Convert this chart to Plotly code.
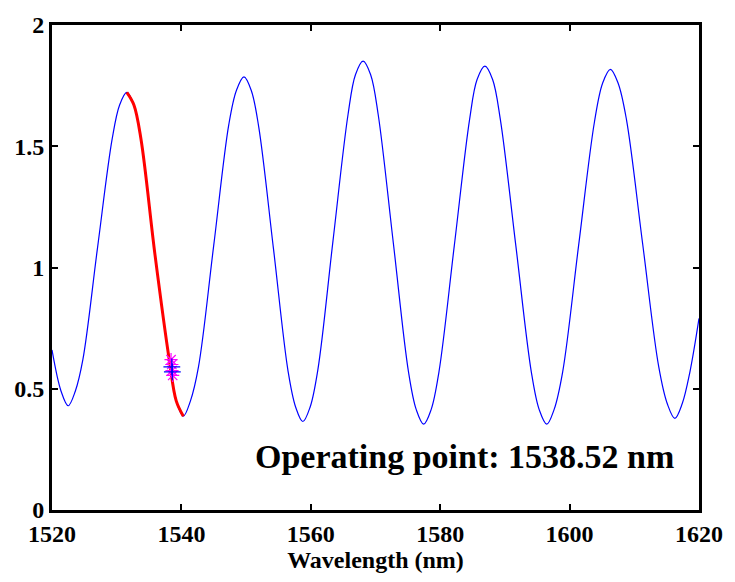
import plotly.graph_objects as go

# Transmission-style spectrum: wavelength (nm) vs. response
wavelength = [1520.00, 1521.40, 1522.50, 1523.60,
              1524.77, 1527.03, 1529.30, 1530.45, 1531.56, 1532.66,
              1533.75, 1535.93, 1538.12, 1539.20, 1540.30, 1541.40,
              1542.64, 1544.99, 1547.33, 1548.50, 1549.67, 1550.80,
              1551.95, 1554.22, 1556.50, 1557.65, 1558.77, 1559.90,
              1561.10, 1563.43, 1565.75, 1566.90, 1568.08, 1569.25,
              1570.42, 1572.76, 1575.10, 1576.30, 1577.44, 1578.60,
              1579.81, 1582.18, 1584.54, 1585.70, 1586.91, 1588.10,
              1589.30, 1591.69, 1594.08, 1595.30, 1596.47, 1597.60,
              1598.93, 1601.39, 1603.84, 1605.10, 1606.30, 1607.50,
              1608.79, 1611.28, 1613.78, 1615.10, 1616.27, 1617.40,
              1618.60, 1620.00]
response = [0.66, 0.49, 0.43, 0.49,
            0.62, 1.08, 1.53, 1.67, 1.722, 1.67,
            1.53, 1.05, 0.62, 0.45, 0.387, 0.45,
            0.59, 1.09, 1.59, 1.73, 1.786, 1.73,
            1.58, 1.08, 0.57, 0.425, 0.365, 0.425,
            0.58, 1.11, 1.63, 1.795, 1.851, 1.795,
            1.63, 1.10, 0.57, 0.414, 0.354, 0.414,
            0.57, 1.09, 1.61, 1.775, 1.830, 1.775,
            1.61, 1.09, 0.57, 0.414, 0.354, 0.414,
            0.57, 1.09, 1.60, 1.76, 1.817, 1.76,
            1.61, 1.10, 0.59, 0.438, 0.378, 0.438,
            0.57, 0.79]

# Falling edge used for tracking: first peak down to the following valley
edge_start = wavelength.index(1531.56)
edge_end = wavelength.index(1540.30)

# Operating point samples
op_wavelength = 1538.52
star_x = [1538.40, 1538.52, 1538.55, 1538.65]
star_y = [0.620, 0.600, 0.575, 0.555]
plus_x = [1538.52, 1538.60]
plus_y = [0.590, 0.570]

x_ticks = [1520, 1540, 1560, 1580, 1600, 1620]
y_ticks = [0, 0.5, 1, 1.5, 2]

serif = "Liberation Serif, Times New Roman, serif"

fig = go.Figure()
fig.add_trace(go.Scatter(
    x=wavelength, y=response, mode="lines",
    line=dict(color="#0000ff", width=1.2, shape="spline"),
    showlegend=False, hoverinfo="skip"))
fig.add_trace(go.Scatter(
    x=wavelength[edge_start:edge_end + 1], y=response[edge_start:edge_end + 1],
    mode="lines", line=dict(color="#ff0000", width=3, shape="spline"),
    showlegend=False, hoverinfo="skip"))
fig.add_trace(go.Scatter(
    x=star_x, y=star_y, mode="markers",
    marker=dict(symbol="asterisk-open", size=11, color="#ff00ff",
                line=dict(color="#ff00ff", width=1.2)),
    showlegend=False))
fig.add_trace(go.Scatter(
    x=plus_x, y=plus_y, mode="markers",
    marker=dict(symbol="cross-thin-open", size=12, color="#0000ff",
                line=dict(color="#0000ff", width=1.2)),
    showlegend=False))

fig.add_annotation(
    x=1583.7, y=0.22, xref="x", yref="y",
    text="<b>Operating point: %.2f nm</b>" % op_wavelength,
    showarrow=False, xanchor="center", yanchor="middle",
    font=dict(family=serif, size=34, color="black"))

axis_common = dict(
    showline=True, linecolor="black", linewidth=3, mirror="allticks",
    ticks="inside", ticklen=6, tickwidth=2, tickcolor="black",
    showgrid=False, zeroline=False,
    tickfont=dict(family=serif, size=24, color="black"),
)

fig.update_xaxes(range=[1520, 1620], tickvals=x_ticks,
                 ticktext=["<b>%d</b>" % v for v in x_ticks],
                 title=dict(text="<b>Wavelength (nm)</b>",
                            font=dict(family=serif, size=24, color="black"),
                            standoff=6),
                 **axis_common)
fig.update_yaxes(range=[0, 2], tickvals=y_ticks,
                 ticktext=["<b>%g</b>" % v for v in y_ticks],
                 **axis_common)

fig.update_layout(
    width=735, height=582,
    margin=dict(l=52, r=32, t=15, b=68),
    paper_bgcolor="white", plot_bgcolor="white",
)

fig.write_html("out.html")
